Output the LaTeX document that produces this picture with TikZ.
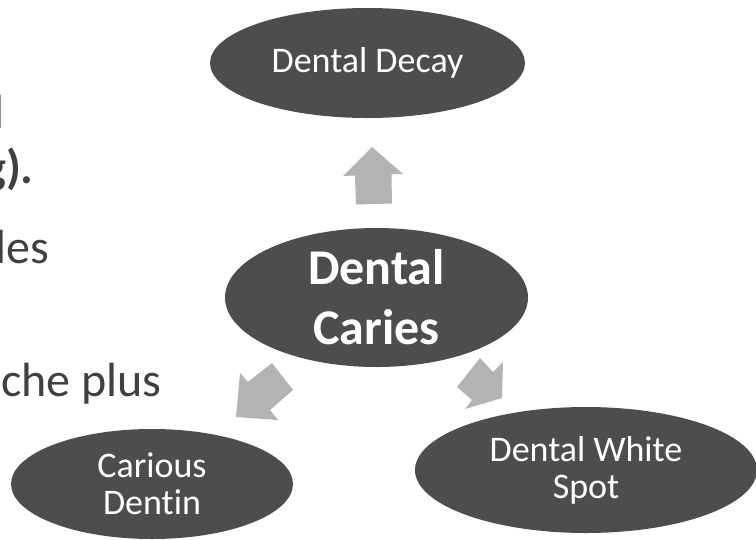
\documentclass[tikz,border=0pt]{standalone}
\usepackage{fontspec}
\setmainfont{Carlito}[Ligatures={NoCommon}]
\usetikzlibrary{shapes.geometric}
\definecolor{ellgray}{HTML}{4D4D4D}
\definecolor{arrgray}{HTML}{B3B3B3}
\definecolor{txtgray}{HTML}{404040}
\tikzset{
  ell/.style={ellipse, fill=ellgray, text=white, inner sep=0pt, align=center,
    font=\fontsize{36}{37}\selectfont},
  blockarrow/.style={fill=arrgray, draw=none},
  sidetext/.style={text=txtgray, inner sep=0pt, font=\fontsize{48}{56}\selectfont}
}
\begin{document}
\begin{tikzpicture}[x=1pt,y=-1pt]
\useasboundingbox (0,0) rectangle (756,539);
% side text fragments
\node[sidetext, anchor=base east] (t1) at (4.5,128) {l};
\node[sidetext, anchor=base east, font=\fontsize{48}{56}\selectfont\bfseries] (t2) at (34,183) {g).};
\node[sidetext, anchor=base east] (t3) at (49,263) {les};
\node[sidetext, anchor=base east] (t4) at (162,396) {che plus};
% ellipses
\node[ell, minimum width=315pt, minimum height=110pt] (decay) at (367.5,63) {Dental Decay};
\node[ell, minimum width=303pt, minimum height=139pt,
  font=\fontsize{50}{60}\selectfont\bfseries] (caries) at (376.5,297.5) {Dental\\Caries};
\node[ell, minimum width=282pt, minimum height=110pt] (dentin) at (152,484) {Carious\\Dentin};
\node[ell, minimum width=342pt, minimum height=126pt] (spot) at (586,470) {Dental White\\Spot};
% block arrows
\fill[blockarrow] (372,147) -- (403,174) -- (391.5,174) -- (392,203.5) -- (356,204.5) -- (355,175.5) -- (343,176) -- cycle;
\fill[blockarrow] (236,417) -- (240,373) -- (248,382) -- (272,363) -- (293,390) -- (270,410) -- (278,420) -- cycle;
\fill[blockarrow] (480,358) -- (493,372) -- (503,362) -- (502,398) -- (465,409) -- (472,400) -- (457,387) -- cycle;
\end{tikzpicture}
\end{document}
